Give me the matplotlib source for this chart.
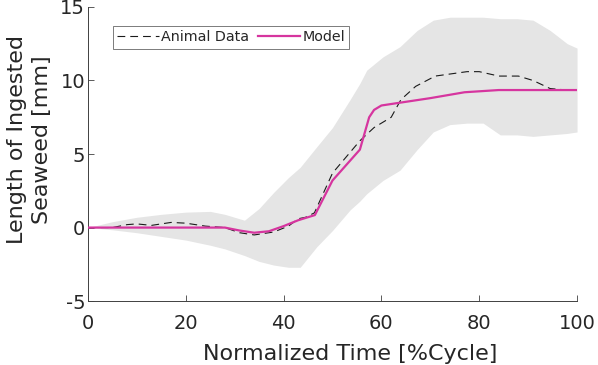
import matplotlib
matplotlib.use("Agg")
import matplotlib.pyplot as plt

# ---- data ----
band_x = [0, 5, 10, 15, 20, 25, 28, 32, 35, 38, 41, 43.4, 46.8, 50, 53.6, 55.6, 57,
          60.3, 63.8, 67.3, 70.6, 74, 77.5, 80.8, 84.3, 87.7, 91, 94.5, 98, 100]
band_upper = [0, 0.4, 0.7, 0.9, 1.05, 1.1, 0.9, 0.5, 1.3, 2.4, 3.4, 4.1, 5.5, 6.8, 8.7, 9.8, 10.7,
              11.6, 12.3, 13.4, 14.1, 14.3, 14.3, 14.3, 14.2, 14.2, 14.1, 13.4, 12.5, 12.2]
band_lower = [0, -0.15, -0.35, -0.6, -0.85, -1.2, -1.45, -1.9, -2.3, -2.55, -2.7, -2.7, -1.3, -0.2, 1.2, 1.8, 2.3,
              3.2, 3.9, 5.3, 6.5, 7.0, 7.1, 7.1, 6.3, 6.3, 6.2, 6.3, 6.4, 6.5]

animal_x = [0, 5, 8, 10, 13, 17, 20, 24, 28, 31, 34, 38, 41, 43, 44.5, 46.3, 50, 55.6, 58.5,
            62, 64, 67, 71, 77.5, 80, 84, 88, 91, 94.5, 98, 100]
animal_y = [0, 0, 0.2, 0.25, 0.15, 0.35, 0.3, 0.1, 0, -0.35, -0.5, -0.3, 0.1, 0.6, 0.7, 1.0, 3.7, 5.9, 6.8,
            7.5, 8.7, 9.6, 10.3, 10.6, 10.6, 10.3, 10.3, 10.0, 9.45, 9.35, 9.35]

model_x = [0, 28, 31, 34, 37, 40, 43, 46.4, 50, 55.6, 57.5, 58.5, 60, 64, 70, 77, 84, 100]
model_y = [0, 0, -0.2, -0.35, -0.25, 0.1, 0.5, 0.85, 3.2, 5.3, 7.5, 8.0, 8.3, 8.5, 8.8, 9.2, 9.35, 9.35]

x_ticks = [0, 20, 40, 60, 80, 100]
y_ticks = [-5, 0, 5, 10, 15]

# ---- style ----
text_color = "#262626"
magenta = "#d6359f"
band_color = "#e5e5e5"
plt.rcParams["font.family"] = ["DejaVu Sans"]
plt.rcParams["axes.unicode_minus"] = False

fig = plt.figure(figsize=(5.98, 3.65), dpi=100)
ax = fig.add_axes([0.147, 0.175, 0.818, 0.806])

ax.fill_between(band_x, band_lower, band_upper, color=band_color, linewidth=0, zorder=1)
ax.plot(animal_x, animal_y, color="#1a1a1a", linestyle=(0, (7, 4.5)), linewidth=0.8,
        label="Animal Data", zorder=2)
ax.plot(model_x, model_y, color=magenta, linewidth=1.6, label="Model", zorder=3)

ax.set_xlim(0, 100)
ax.set_ylim(-5, 15)
ax.set_xticks(x_ticks)
ax.set_yticks(y_ticks)
ax.tick_params(direction="in", length=4, width=0.6, colors="#404040",
               labelcolor=text_color, labelsize=14)
ax.tick_params(axis="x", pad=9)
ax.tick_params(axis="y", pad=2)
for s in ["top", "right"]:
    ax.spines[s].set_visible(False)
for s in ["left", "bottom"]:
    ax.spines[s].set_color("#404040")
    ax.spines[s].set_linewidth(0.7)

ax.set_xlabel("Normalized Time [%Cycle]", fontsize=16, color=text_color)
ax.xaxis.set_label_coords(0.536, -0.145)
ax.set_ylabel("Length of Ingested\nSeaweed [mm]", fontsize=16, color=text_color,
              linespacing=1.3)
ax.yaxis.set_label_coords(-0.074, 0.548)

leg = ax.legend(loc="upper left", bbox_to_anchor=(0.051, 0.935), borderaxespad=0,
                ncol=2, fontsize=10.3, frameon=True, fancybox=False,
                handlelength=2.9, handletextpad=0.2, columnspacing=0.6,
                borderpad=0.3)
leg.get_frame().set_edgecolor("#404040")
leg.get_frame().set_linewidth(0.6)
for t in leg.get_texts():
    t.set_color(text_color)

fig.savefig("out.png", dpi=100)
